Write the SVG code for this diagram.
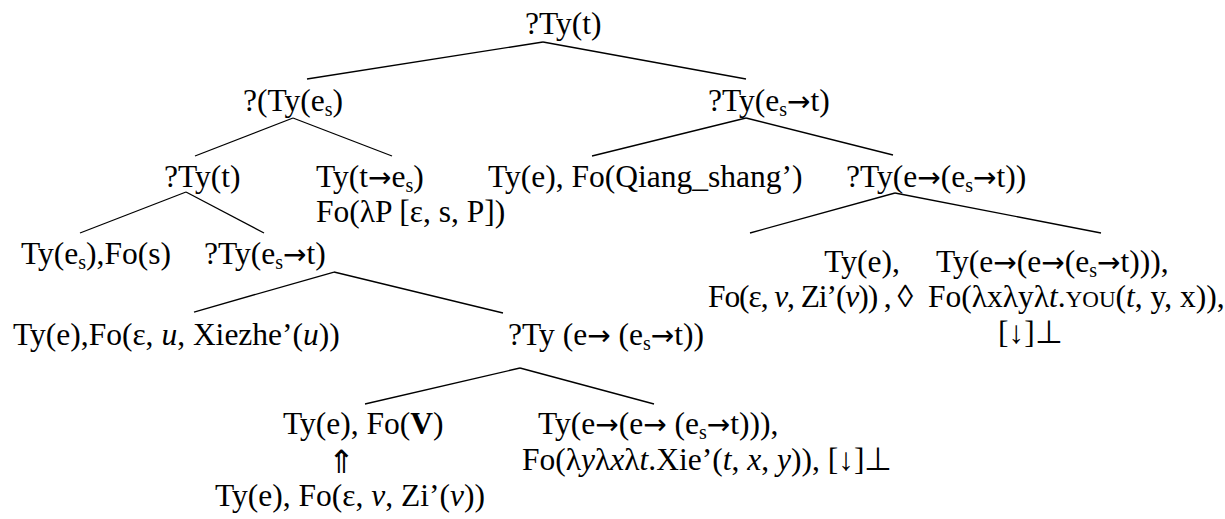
<svg xmlns="http://www.w3.org/2000/svg" width="1225" height="519" viewBox="0 0 1225 519">
<style>
text{font-family:"Liberation Serif","Times New Roman",serif;font-size:31.5px;fill:#000}
.s{font-size:20px}
.i{font-style:italic}
.b{font-weight:bold}
.sc{font-size:23px}
.a{font-family:"DejaVu Sans",sans-serif;font-size:28px}
line{stroke:#000;stroke-width:1.3}
</style>
<rect width="1225" height="519" fill="#fff"/>
<g id="connectors">
<line x1="543" y1="42" x2="307" y2="79"/>
<line x1="543" y1="42" x2="746" y2="79"/>
<line x1="293" y1="118" x2="195" y2="156"/>
<line x1="293" y1="118" x2="392" y2="156"/>
<line x1="746" y1="118" x2="592" y2="156"/>
<line x1="746" y1="118" x2="893" y2="155"/>
<line x1="186" y1="192" x2="80" y2="233"/>
<line x1="186" y1="192" x2="264" y2="233"/>
<line x1="895" y1="193" x2="750" y2="233"/>
<line x1="895" y1="193" x2="1101" y2="233"/>
<line x1="334" y1="272" x2="194" y2="312"/>
<line x1="334" y1="272" x2="503" y2="313"/>
<line x1="520" y1="368" x2="365" y2="404"/>
<line x1="520" y1="368" x2="654" y2="404"/>
</g>
<g id="n-root"><text x="525" y="34">?Ty(t)</text></g>
<g id="n-es"><text x="243" y="111">?(Ty(e<tspan class="s" dy="5">s</tspan><tspan dy="-5">)</tspan></text></g>
<g id="n-est"><text x="708" y="111">?Ty(e<tspan class="s" dy="5">s</tspan><tspan class="a" dy="-5">→</tspan>t)</text></g>
<g id="n-t"><text x="164" y="187">?Ty(t)</text></g>
<g id="n-tes"><text x="316" y="187">Ty(t<tspan class="a">→</tspan>e<tspan class="s" dy="5">s</tspan><tspan dy="-5">)</tspan></text><text x="316" y="222">Fo(λP [ε, s, P])</text></g>
<g id="n-qiang"><text x="488" y="187">Ty(e), Fo(Qiang_shang’)</text></g>
<g id="n-eest"><text x="846" y="187">?Ty(e<tspan class="a">→</tspan>(e<tspan class="s" dy="5">s</tspan><tspan class="a" dy="-5">→</tspan>t))</text></g>
<g id="n-s"><text x="21" y="264">Ty(e<tspan class="s" dy="5">s</tspan><tspan dy="-5">),Fo(s)</tspan></text></g>
<g id="n-est2"><text x="204" y="264">?Ty(e<tspan class="s" dy="5">s</tspan><tspan class="a" dy="-5">→</tspan>t)</text></g>
<g id="n-zi"><text x="862" y="272" text-anchor="middle">Ty(e),</text><text x="708" y="307" textLength="205" lengthAdjust="spacing">Fo(ε, <tspan class="i">v</tspan>, Zi’(<tspan class="i">v</tspan>)) , ◊</text></g>
<g id="n-you"><text x="936" y="272">Ty(e<tspan class="a">→</tspan>(e<tspan class="a">→</tspan>(e<tspan class="s" dy="5">s</tspan><tspan class="a" dy="-5">→</tspan>t))),</text><text x="928" y="307">Fo(λxλyλ<tspan class="i">t</tspan>.<tspan class="sc">YOU</tspan>(<tspan class="i">t</tspan>, y, x)),</text><text x="998" y="343">[↓]⊥</text></g>
<g id="n-xiezhe"><text x="13" y="345">Ty(e),Fo(ε, <tspan class="i">u</tspan>, Xiezhe’(<tspan class="i">u</tspan>))</text></g>
<g id="n-eest2"><text x="508" y="345">?Ty (e<tspan class="a">→</tspan> (e<tspan class="s" dy="5">s</tspan><tspan class="a" dy="-5">→</tspan>t))</text></g>
<g id="n-v"><text x="283" y="434">Ty(e), Fo(<tspan class="b">V</tspan>)</text><text x="341" y="473" text-anchor="middle">⇑</text><text x="215" y="506">Ty(e), Fo(ε, <tspan class="i">v</tspan>, Zi’(<tspan class="i">v</tspan>))</text></g>
<g id="n-xie"><text x="538" y="434">Ty(e<tspan class="a">→</tspan>(e<tspan class="a">→</tspan> (e<tspan class="s" dy="5">s</tspan><tspan class="a" dy="-5">→</tspan>t))),</text><text x="522" y="470">Fo(λ<tspan class="i">y</tspan>λ<tspan class="i">x</tspan>λ<tspan class="i">t</tspan>.Xie’(<tspan class="i">t</tspan>, <tspan class="i">x</tspan>, <tspan class="i">y</tspan>)), [↓]⊥</text></g>
</svg>
